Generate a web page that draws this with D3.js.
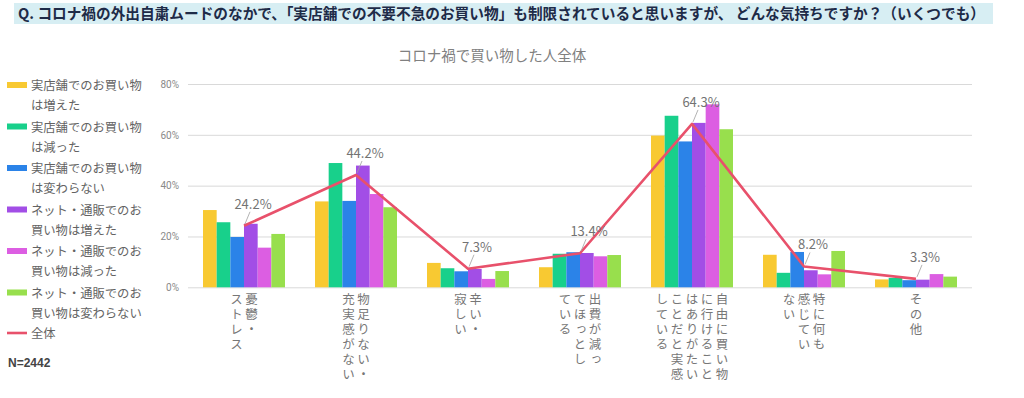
<!DOCTYPE html>
<meta charset="utf-8">
<style>
  body { margin: 0; background: #fff; }
  svg text { font-family: "Noto Sans CJK JP", "Noto Sans", sans-serif; }
</style>
<body>
<div id="chart"></div>
<script src="https://cdn.jsdelivr.net/npm/d3@7/dist/d3.min.js"></script>
<script>
var question = "Q. コロナ禍の外出自粛ムードのなかで、「実店舗での不要不急のお買い物」も制限されていると思いますが、 どんな気持ちですか？（いくつでも）";
var chartTitle = "コロナ禍で買い物した人全体";
var sampleNote = "N=2442";

// each category label is written vertically, one entry per column (right to left)
var categories = [
  ["憂鬱・", "ストレス"],
  ["物足りない・", "充実感がない"],
  ["辛い・", "寂しい"],
  ["出費が減っ", "てほっとし", "ている"],
  ["自由に買い物", "に行けること", "はありがたい", "ことだと実感", "している"],
  ["特に何も", "感じてい", "ない"],
  ["その他"]
];

var seriesNames = [
  "実店舗でのお買い物は増えた",
  "実店舗でのお買い物は減った",
  "実店舗でのお買い物は変わらない",
  "ネット・通販でのお買い物は増えた",
  "ネット・通販でのお買い物は減った",
  "ネット・通販でのお買い物は変わらない"
];
var totalName = "全体";

var storeUp      = [30.4, 33.8, 9.6, 7.9, 59.7, 12.8, 3.1];
var storeDown    = [25.6, 48.9, 7.5, 13.2, 67.5, 5.7, 3.7];
var storeSame    = [19.8, 34.0, 6.3, 13.8, 57.4, 13.9, 2.8];
var netUp        = [25.0, 47.9, 7.2, 13.5, 64.7, 6.7, 3.0];
var netDown      = [15.6, 36.7, 3.3, 12.2, 72.0, 5.1, 5.2];
var netSame      = [21.0, 31.5, 6.4, 12.7, 62.2, 14.3, 4.2];
var totalValues  = [24.2, 44.2, 7.3, 13.4, 64.3, 8.2, 3.3];

var yTicks = [0, 20, 40, 60, 80];

var seriesValues = [storeUp, storeDown, storeSame, netUp, netDown, netSame];
var colors = ["#f8c932", "#18d08b", "#2b83e8", "#a24ee6", "#dc5ee2", "#98df4d"];
var lineColor = "#e8516b";

var W = 1024, H = 398;
var svg = d3.select("#chart").append("svg")
  .attr("width", W)
  .attr("height", H);

// question banner
svg.append("rect")
  .attr("x", 14).attr("y", 3)
  .attr("width", 979).attr("height", 21)
  .attr("fill", "#d7eef3");
svg.append("text")
  .attr("x", 18).attr("y", 19)
  .attr("font-size", 15)
  .attr("font-weight", "bold")
  .attr("fill", "#1e2b48")
  .attr("textLength", 967)
  .attr("lengthAdjust", "spacingAndGlyphs")
  .text(question);

svg.append("text")
  .attr("x", 492).attr("y", 61)
  .attr("text-anchor", "middle")
  .attr("font-size", 14.5)
  .attr("fill", "#808080")
  .text(chartTitle);

// scales
var catNames = categories.map(c => c.join(""));
var x0 = d3.scaleBand().domain(catNames).range([188, 972]);
var groupW = 82;
var x1 = d3.scaleBand().domain(d3.range(seriesNames.length)).range([0, groupW]);
var y = d3.scaleLinear().domain([0, 80]).range([287.3, 84]);

var yAxis = d3.axisLeft(y)
  .tickValues(yTicks)
  .tickSize(-(972 - 188))
  .tickPadding(9)
  .tickFormat(d => d + "%");

var gy = svg.append("g")
  .attr("transform", "translate(188,0)")
  .call(yAxis);
gy.select(".domain").remove();
gy.selectAll(".tick line").attr("stroke", "#d9d9d9").attr("stroke-width", 1);
gy.selectAll(".tick text")
  .attr("fill", "#8a8a8a")
  .attr("font-size", 10)
  .style("font-family", "Roboto, 'Noto Sans', sans-serif");

// bars
var groups = svg.append("g").selectAll("g")
  .data(catNames)
  .enter().append("g")
  .attr("transform", d => "translate(" + (x0(d) + (x0.bandwidth() - groupW) / 2) + ",0)");

groups.selectAll("rect")
  .data((d, i) => seriesValues.map((s, k) => ({ k: k, v: s[i] })))
  .enter().append("rect")
  .attr("x", d => x1(d.k))
  .attr("width", x1.bandwidth())
  .attr("y", d => y(d.v))
  .attr("height", d => y(0) - y(d.v))
  .attr("fill", d => colors[d.k]);

// total line
var cx = i => x0(catNames[i]) + x0.bandwidth() / 2;
var line = d3.line().x((d, i) => cx(i)).y(d => y(d));
svg.append("path")
  .datum(totalValues)
  .attr("d", line)
  .attr("fill", "none")
  .attr("stroke", lineColor)
  .attr("stroke-width", 2.6)
  .attr("stroke-linejoin", "round");

// total labels with leader lines
var lbl = svg.append("g").selectAll("g")
  .data(totalValues)
  .enter().append("g");
lbl.append("line")
  .attr("x1", (d, i) => cx(i) + 1)
  .attr("y1", d => y(d) - 2)
  .attr("x2", (d, i) => cx(i) + 6)
  .attr("y2", d => y(d) - 14)
  .attr("stroke", "#a0a0a0")
  .attr("stroke-width", 0.8);
lbl.append("text")
  .attr("x", (d, i) => cx(i) + 9)
  .attr("y", d => y(d) - 17)
  .attr("text-anchor", "middle")
  .attr("font-size", 13)
  .attr("fill", "#737373")
  .text(d => d.toFixed(1) + "%");

// vertical category labels
categories.forEach((cols, i) => {
  var c = cx(i);
  var n = cols.length;
  cols.forEach((col, j) => {
    svg.append("text")
      .attr("x", c + ((n - 1) / 2 - j) * 15)
      .attr("y", 293)
      .style("writing-mode", "vertical-rl")
      .style("letter-spacing", "2.5px")
      .attr("font-size", 12.5)
      .attr("fill", "#777")
      .text(col);
  });
});

// legend
var legend = svg.append("g");
seriesNames.forEach((name, k) => {
  var cy = 85 + k * 41.5;
  legend.append("rect")
    .attr("x", 7).attr("y", cy - 3)
    .attr("width", 20).attr("height", 6)
    .attr("fill", colors[k]);
  [name.slice(0, 9), name.slice(9)].forEach((t, r) => {
    legend.append("text")
      .attr("x", 31).attr("y", cy + 5 + r * 20)
      .attr("font-size", 12.3)
      .attr("fill", "#636363")
      .text(t);
  });
});
var ty = 85 + seriesNames.length * 41.5 - 1;
legend.append("line")
  .attr("x1", 7).attr("x2", 27)
  .attr("y1", ty).attr("y2", ty)
  .attr("stroke", lineColor)
  .attr("stroke-width", 2.6);
legend.append("text")
  .attr("x", 31).attr("y", ty + 5)
  .attr("font-size", 12.3)
  .attr("fill", "#636363")
  .text(totalName);

svg.append("text")
  .attr("x", 8).attr("y", 367)
  .attr("font-size", 12)
  .attr("font-weight", "bold")
  .attr("fill", "#444")
  .style("font-family", "Arial, 'Liberation Sans', sans-serif")
  .text(sampleNote);
</script>
